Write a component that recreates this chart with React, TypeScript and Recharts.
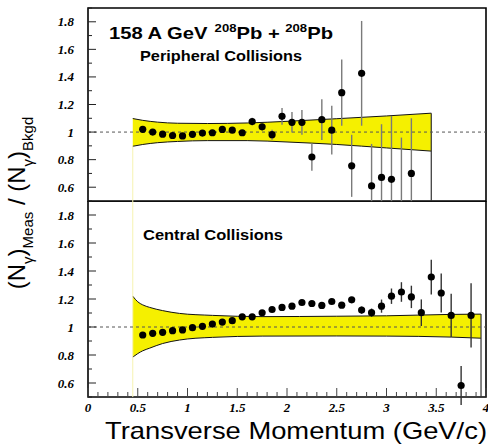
import React from "react";
import {
  ComposedChart,
  Area,
  Scatter,
  ErrorBar,
  XAxis,
  YAxis,
  ReferenceLine,
  ReferenceArea,
} from "recharts";

// peripheral collisions: pT bin centre (GeV/c), ratio, stat. error
const ptPeripheral = [
  0.55, 0.65, 0.75, 0.85, 0.95, 1.05, 1.15, 1.25, 1.35, 1.45, 1.55, 1.65, 1.75, 1.85,
  1.95, 2.05, 2.15, 2.25, 2.35, 2.45, 2.55, 2.65, 2.75, 2.85, 2.95, 3.05, 3.15, 3.25,
];
const ratioPeripheral = [
  1.02, 1.0, 0.985, 0.975, 0.972, 0.984, 0.993, 0.995, 1.019, 1.014, 0.995, 1.076, 1.038,
  0.981, 1.114, 1.071, 1.071, 0.819, 1.09, 1.014, 1.286, 0.755, 1.426, 0.609, 0.671, 0.657,
  0.42, 0.7,
];
const errPeripheral = [
  0, 0, 0, 0, 0, 0, 0, 0, 0.01, 0.01, 0.015, 0.027, 0.025, 0.036, 0.06, 0.074, 0.09, 0.1,
  0.148, 0.177, 0.24, 0.225, 0.38, 0.305, 0.386, 0.46, 0.54, 0.4,
];

// central collisions
const ptCentral = [
  0.55, 0.65, 0.75, 0.85, 0.95, 1.05, 1.15, 1.25, 1.35, 1.45, 1.55, 1.65, 1.75, 1.85, 1.95,
  2.05, 2.15, 2.25, 2.35, 2.45, 2.55, 2.65, 2.75, 2.85, 2.95, 3.05, 3.15, 3.25, 3.35, 3.45,
  3.55, 3.65, 3.75, 3.85,
];
const ratioCentral = [
  0.943, 0.955, 0.962, 0.974, 0.979, 0.995, 1.005, 1.021, 1.035, 1.045, 1.073, 1.073, 1.101,
  1.125, 1.14, 1.149, 1.175, 1.168, 1.154, 1.182, 1.156, 1.194, 1.121, 1.102, 1.149, 1.22,
  1.25, 1.215, 1.102, 1.357, 1.243, 1.083, 0.582, 1.083,
];
const errCentral = [
  0, 0, 0, 0, 0, 0, 0, 0, 0, 0, 0, 0, 0, 0, 0, 0, 0, 0, 0, 0, 0.01, 0.02, 0.025, 0.03,
  0.047, 0.055, 0.07, 0.08, 0.095, 0.124, 0.14, 0.154, 0.14, 0.23,
];

// systematic error bands
const bandPtPeripheral = [0.45, 0.55, 0.7, 0.9, 1.2, 1.6, 2.0, 2.5, 3.0, 3.45];
const bandLoPeripheral = [0.897, 0.91, 0.923, 0.932, 0.938, 0.938, 0.928, 0.91, 0.885, 0.862];
const bandHiPeripheral = [1.098, 1.085, 1.072, 1.064, 1.062, 1.066, 1.078, 1.097, 1.117, 1.137];

const bandPtCentral = [0.45, 0.5, 0.55, 0.62, 0.75, 0.92, 1.25, 1.75, 2.5, 3.0, 3.65, 3.95];
const bandLoCentral = [0.785, 0.81, 0.83, 0.849, 0.882, 0.907, 0.926, 0.935, 0.936, 0.935, 0.928, 0.92];
const bandHiCentral = [1.22, 1.18, 1.158, 1.14, 1.117, 1.097, 1.083, 1.074, 1.077, 1.08, 1.09, 1.092];

const xLabels = [0, 0.5, 1, 1.5, 2, 2.5, 3, 3.5, 4];
const yLabels = [0.6, 0.8, 1, 1.2, 1.4, 1.6, 1.8];

const X_DOMAIN: [number, number] = [0, 4];
const Y_DOMAIN: [number, number] = [0.5, 1.9];

// minor tick marks every 0.1 on both axes
const steps = (a: number, b: number, d: number) => {
  const out: number[] = [];
  for (let v = a; v <= b + 1e-9; v += d) out.push(Math.round(v * 100) / 100);
  return out;
};
const xTicks = steps(0, 4, 0.1);
const yTicks = steps(0.5, 1.9, 0.1);

const isOn = (list: number[], v: number) => list.some((l) => Math.abs(l - v) < 1e-6);
const fmt = (v: number) => (Number.isInteger(v) ? String(v) : v.toFixed(1));

const TICK_FONT = "'Liberation Serif', 'Times New Roman', serif";
const SANS = "'Liberation Sans', Arial, Helvetica, sans-serif";
const Y_MARGIN = 14;
const X_MARGIN = 15;

const makeYTick = (props: any) => {
  const { x, y, payload } = props;
  const v = payload.value;
  const major = isOn(yLabels, v);
  const ax = x + Y_MARGIN;
  return (
    <g>
      <line x1={ax} x2={ax + (major ? 8 : 4)} y1={y} y2={y} stroke="#222" strokeWidth={1} />
      {major && (
        <text x={x} y={y} dy="0.35em" textAnchor="end" fontFamily={TICK_FONT} fontWeight="bold" fontStyle="italic" fontSize={13} fill="#000">
          {fmt(v)}
        </text>
      )}
    </g>
  );
};

const makeXTick = (showLabel: boolean) => (props: any) => {
  const { x, y, payload } = props;
  const v = payload.value;
  const major = isOn(xLabels, v);
  const ay = y - X_MARGIN;
  return (
    <g>
      <line x1={x} x2={x} y1={ay} y2={ay - (major ? 9 : 5)} stroke="#444" strokeWidth={1} />
      {showLabel && major && (
        <text x={x} y={y} textAnchor="middle" fontFamily={TICK_FONT} fontWeight="bold" fontStyle="italic" fontSize={13} fill="#000">
          {fmt(v)}
        </text>
      )}
    </g>
  );
};

const dot = (p: any) => <circle cx={p.cx} cy={p.cy} r={3.6} fill="#000" />;

const toPoints = (pt: number[], r: number[], e: number[]) =>
  pt.map((p, i) => ({ pt: p, ratio: r[i], err: e[i] }));
const toBand = (pt: number[], lo: number[], hi: number[]) =>
  pt.map((p, i) => ({ pt: p, band: [lo[i], hi[i]] }));

const peripheralPoints = toPoints(ptPeripheral, ratioPeripheral, errPeripheral);
const centralPoints = toPoints(ptCentral, ratioCentral, errCentral);
const peripheralBand = toBand(bandPtPeripheral, bandLoPeripheral, bandHiPeripheral);
const centralBand = toBand(bandPtCentral, bandLoCentral, bandHiCentral);

type PanelProps = {
  band: { pt: number; band: number[] }[];
  points: { pt: number; ratio: number; err: number }[];
  bandPt: number[];
  bandLo: number[];
  bandHi: number[];
  errColor: string;
  height: number;
  xAxisHeight: number;
  margin: { top: number; right: number; bottom: number; left: number };
  showXLabels: boolean;
  fullEdge: boolean;
};

function Panel(props: PanelProps) {
  const { band, points, bandPt, bandLo, bandHi, errColor, height, xAxisHeight, margin, showXLabels, fullEdge } = props;
  const first = bandPt[0];
  const last = bandPt[bandPt.length - 1];
  return (
    <ComposedChart width={488} height={height} data={band} margin={margin}>
      <XAxis
        type="number"
        dataKey="pt"
        domain={X_DOMAIN}
        ticks={xTicks}
        interval={0}
        tick={makeXTick(showXLabels)}
        tickLine={false}
        axisLine={false}
        tickSize={0}
        tickMargin={X_MARGIN}
        height={xAxisHeight}
        allowDataOverflow
      />
      <YAxis
        type="number"
        domain={Y_DOMAIN}
        ticks={yTicks}
        interval={0}
        tick={makeYTick}
        tickLine={false}
        axisLine={false}
        tickSize={0}
        tickMargin={Y_MARGIN}
        width={80}
        allowDataOverflow
      />
      <ReferenceLine
        segment={[{ x: first, y: Y_DOMAIN[0] }, { x: first, y: fullEdge ? Y_DOMAIN[1] : bandLo[0] }]}
        stroke="#f6f3b0"
        strokeWidth={1}
      />
      <Area
        type="monotone"
        dataKey="band"
        fill="#f5f000"
        fillOpacity={1}
        stroke="#111"
        strokeWidth={1}
        isAnimationActive={false}
        dot={false}
        activeDot={false}
      />
      <ReferenceLine
        segment={[{ x: last, y: Y_DOMAIN[0] }, { x: last, y: bandHi[bandHi.length - 1] }]}
        stroke="#333"
        strokeWidth={1.2}
      />
      <ReferenceLine y={1} stroke="#555" strokeDasharray="3 3" strokeWidth={1} />
      <Scatter data={points} dataKey="ratio" shape={dot} isAnimationActive={false}>
        <ErrorBar dataKey="err" direction="y" width={0} stroke={errColor} strokeWidth={1.4} isAnimationActive={false} />
      </Scatter>
      <ReferenceArea x1={X_DOMAIN[0]} x2={X_DOMAIN[1]} y1={Y_DOMAIN[0]} y2={Y_DOMAIN[1]} fill="none" stroke="#000" strokeWidth={1.6} />
    </ComposedChart>
  );
}

export default function App() {
  return (
    <div style={{ position: "absolute", left: 0, top: 0, width: 488, height: 446, background: "#fff", overflow: "hidden" }}>
      <div style={{ position: "absolute", left: 0, top: 0 }}>
        <Panel
          band={peripheralBand}
          points={peripheralPoints}
          bandPt={bandPtPeripheral}
          bandLo={bandLoPeripheral}
          bandHi={bandHiPeripheral}
          errColor="#7a7a7a"
          height={202}
          xAxisHeight={0}
          margin={{ top: 8, right: 2, bottom: 1, left: 8 }}
          showXLabels={false}
          fullEdge={false}
        />
      </div>
      <div style={{ position: "absolute", left: 0, top: 201 }}>
        <Panel
          band={centralBand}
          points={centralPoints}
          bandPt={bandPtCentral}
          bandLo={bandLoCentral}
          bandHi={bandHiCentral}
          errColor="#333"
          height={245}
          xAxisHeight={49}
          margin={{ top: 0, right: 2, bottom: 0, left: 8 }}
          showXLabels={true}
          fullEdge={true}
        />
      </div>
      <svg width={488} height={446} style={{ position: "absolute", left: 0, top: 0, pointerEvents: "none" }}>
        <text x={109} y={39} fontFamily={SANS} fontWeight="bold" fontSize={17} textLength={224} lengthAdjust="spacingAndGlyphs" fill="#000">
          158 A GeV
          <tspan dx={6} dy={-7} fontSize={11}>208</tspan>
          <tspan dy={7}>Pb + </tspan>
          <tspan dy={-7} fontSize={11}>208</tspan>
          <tspan dy={7}>Pb</tspan>
        </text>
        <text x={140} y={61} fontFamily={SANS} fontWeight="bold" fontSize={15.5} textLength={162} lengthAdjust="spacingAndGlyphs" fill="#000">
          Peripheral Collisions
        </text>
        <text x={143} y={240} fontFamily={SANS} fontWeight="bold" fontSize={15.5} textLength={140} lengthAdjust="spacingAndGlyphs" fill="#000">
          Central Collisions
        </text>
        <text transform="translate(25,203) rotate(-90)" textAnchor="middle" fontFamily={SANS} fontSize={24} fill="#000">
          (N
          <tspan fontSize={15} dy={8}>γ</tspan>
          <tspan dy={-8}>)</tspan>
          <tspan fontSize={15} dy={8}>Meas</tspan>
          <tspan dy={-8}> / (N</tspan>
          <tspan fontSize={15} dy={8}>γ</tspan>
          <tspan dy={-8}>)</tspan>
          <tspan fontSize={15} dy={8}>Bkgd</tspan>
        </text>
        <text x={105} y={439} fontFamily={SANS} fontSize={24} textLength={382} lengthAdjust="spacingAndGlyphs" fill="#000">
          Transverse Momentum (GeV/c)
        </text>
      </svg>
    </div>
  );
}
